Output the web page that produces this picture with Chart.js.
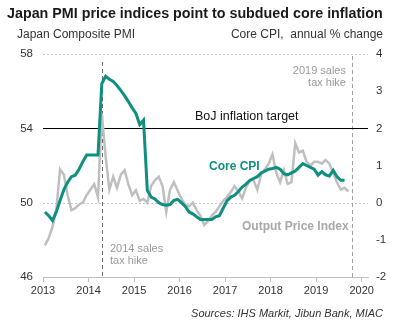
<!DOCTYPE html>
<html>
<head>
<meta charset="utf-8">
<script src="https://cdn.jsdelivr.net/npm/chart.js@4"></script>
<style>
    body { margin: 0; background: #fff; font-family: "Liberation Sans", Arial, sans-serif; }
    #wrap { position: relative; width: 394px; height: 323px; overflow: hidden; }
    #chart { position: absolute; left: 0; top: 0; }
    .txt { position: absolute; white-space: nowrap; }
    .title { left: 7px; top: 4px; font-size: 14.3px; font-weight: bold; color: #1a1a1a; line-height: 18px; }
    .axl { left: 17px; top: 26px; font-size: 12px; color: #333; line-height: 16px; }
    .axr { right: 11px; top: 26px; font-size: 12px; color: #333; line-height: 16px; }
    .src { right: 11px; top: 305px; font-size: 11px; font-style: italic; color: #333; line-height: 16px; }
    .boj { left: 195px; top: 108px; font-size: 12.5px; color: #111; line-height: 16px; }
    .cpi { left: 209px; top: 158px; font-size: 12px; font-weight: bold; color: #0f8f80; line-height: 16px; }
    .opi { left: 242px; top: 218px; font-size: 12px; font-weight: bold; color: #a8a8a8; line-height: 16px; }
    .hike19 { right: 48px; top: 64px; font-size: 11px; color: #9a9a9a; line-height: 12px; text-align: right; }
    .hike14 { left: 110px; top: 242px; font-size: 11px; color: #9a9a9a; line-height: 12px; }
</style>
</head>
<body>
<div id="wrap">
    <canvas id="chart" width="394" height="323"></canvas>
    <div class="txt title">Japan PMI price indices point to subdued core inflation</div>
    <div class="txt axl">Japan Composite PMI</div>
    <div class="txt axr">Core CPI,&nbsp; annual % change</div>
    <div class="txt boj">BoJ inflation target</div>
    <div class="txt cpi">Core CPI</div>
    <div class="txt opi">Output Price Index</div>
    <div class="txt hike19">2019 sales<br>tax hike</div>
    <div class="txt hike14">2014 sales<br>tax hike</div>
    <div class="txt src">Sources: IHS Markit, Jibun Bank, MIAC</div>
</div>
<script>
// monthly data, first value = Jan 2013
const startYear = 2013;

// PMI output price index (left axis), Jan 2013 - Sep 2019
const outputPrice = [
    47.7, 48.1, 48.7, 49.6, 51.8, 51.5, 50.4, 49.6, 49.7, 49.9, 50.0, 50.4,
    50.7, 51.0, 50.3, 54.8, 52.5, 50.7, 51.4, 50.8, 51.5, 51.75, 51.0, 50.4,
    50.66, 50.1, 50.2, 50.0, 50.9, 51.2, 51.4, 50.9, 49.5, 50.7, 51.1, 50.66,
    50.2, 49.9, 49.8, 50.0, 49.6, 49.3, 48.8, 49.0, 49.3, 49.5, 49.8, 50.1,
    50.3, 50.57, 50.9, 50.6, 50.23, 50.8, 51.2, 51.2, 50.7, 51.5, 51.8, 52.1,
    52.6, 51.6, 51.1, 51.75, 51.0, 51.1, 53.2, 52.7, 52.8, 52.2, 52.0, 52.2,
    52.2, 52.1, 52.3, 52.1, 51.6, 51.1, 50.7, 50.8, 50.6
];

// core CPI, annual % change (right axis), Jan 2013 - Aug 2019
const coreCpi = [
    -0.25, -0.35, -0.48, -0.25, 0.06, 0.35, 0.55, 0.7, 0.74, 0.9, 1.1, 1.28,
    1.28, 1.28, 1.28, 3.2, 3.4, 3.32, 3.26, 3.15, 3.02, 2.88, 2.72, 2.55,
    2.4, 2.1, 2.22, 0.33, 0.15, 0.1, 0.0, -0.05, -0.07, -0.05, 0.06, 0.09,
    0.0, -0.1, -0.25, -0.3, -0.38, -0.45, -0.45, -0.45, -0.45, -0.38, -0.35, -0.15,
    0.05, 0.15, 0.2, 0.3, 0.42, 0.5, 0.6, 0.65, 0.7, 0.8, 0.85, 0.9,
    0.92, 0.95, 0.9, 0.78, 0.75, 0.8, 0.85, 0.95, 1.05, 1.0, 0.95, 0.9,
    0.74, 0.83, 0.75, 0.72, 0.87, 0.7, 0.6, 0.6
];

const leftTicks = [46, 50, 54, 58];
const rightTicks = [-2, -1, 0, 1, 2, 3, 4];
const bojTarget = 2;
// sales tax hikes: Apr 2014 and Oct 2019 (mid-month)
const taxHikes = [2014 + 3.5 / 12, 2019 + 9.5 / 12];

const teal = '#0f8f80';
const grey = '#bfbfbf';

// plot each month at its mid-point
function toPoints(values) {
    return values.map((v, i) => ({ x: startYear + (i + 0.5) / 12, y: v }));
}

const refLines = {
    id: 'refLines',
    beforeDatasetsDraw(chart) {
        const { ctx, chartArea: area, scales } = chart;
        ctx.save();
        ctx.lineWidth = 1;
        // dotted grid at 58 and 50
        ctx.strokeStyle = '#c8c8c8';
        ctx.setLineDash([2, 2]);
        [58, 50].forEach(v => {
            const y = Math.round(scales.y.getPixelForValue(v)) + 0.5;
            ctx.beginPath();
            ctx.moveTo(area.left, y);
            ctx.lineTo(area.right, y);
            ctx.stroke();
        });
        // tax hike markers
        ctx.setLineDash([4, 3]);
        taxHikes.forEach((t, i) => {
            const x = Math.round(scales.x.getPixelForValue(t)) + 0.5;
            ctx.strokeStyle = i === 0 ? '#6a6a6a' : '#a0a0a0';
            ctx.beginPath();
            ctx.moveTo(x, area.top + (i === 0 ? 8 : 2));
            ctx.lineTo(x, area.bottom);
            ctx.stroke();
        });
        // BoJ target
        ctx.setLineDash([]);
        ctx.strokeStyle = '#000';
        const yb = Math.round(scales.y1.getPixelForValue(bojTarget)) + 0.5;
        ctx.beginPath();
        ctx.moveTo(area.left, yb);
        ctx.lineTo(area.right, yb);
        ctx.stroke();
        ctx.restore();
    }
};

Chart.defaults.font.family = '"Liberation Sans", Arial, sans-serif';
Chart.defaults.color = '#333';

new Chart(document.getElementById('chart'), {
    type: 'line',
    data: {
        datasets: [
            {
                label: 'Core CPI',
                data: toPoints(coreCpi),
                yAxisID: 'y1',
                borderColor: teal,
                borderWidth: 3,
                pointRadius: 0,
                tension: 0,
                order: 0
            },
            {
                label: 'Output Price Index',
                data: toPoints(outputPrice),
                yAxisID: 'y',
                borderColor: grey,
                borderWidth: 2.5,
                pointRadius: 0,
                tension: 0,
                order: 1
            }
        ]
    },
    options: {
        responsive: false,
        animation: false,
        layout: { padding: { top: 54, left: 0, right: 0, bottom: 0 } },
        plugins: { legend: { display: false }, tooltip: { enabled: false } },
        scales: {
            x: {
                type: 'linear',
                min: startYear,
                max: 2020.14,
                afterFit: s => { s.height = 46; },
                border: { display: true, color: '#bfbfbf', width: 1 },
                grid: { drawOnChartArea: false, drawTicks: true, tickLength: 5, color: '#bfbfbf' },
                ticks: {
                    stepSize: 1,
                    includeBounds: false,
                    padding: 2,
                    font: { size: 11 },
                    callback: v => String(v)
                }
            },
            y: {
                position: 'left',
                min: leftTicks[0],
                max: leftTicks[leftTicks.length - 1],
                afterFit: s => { s.width = 43; },
                afterBuildTicks: s => { s.ticks = leftTicks.map(v => ({ value: v })); },
                border: { display: false },
                grid: { display: false, drawTicks: false },
                ticks: { padding: 10, font: { size: 11.5 } }
            },
            y1: {
                position: 'right',
                min: rightTicks[0],
                max: rightTicks[rightTicks.length - 1],
                afterFit: s => { s.width = 26; },
                afterBuildTicks: s => { s.ticks = rightTicks.map(v => ({ value: v })); },
                border: { display: false },
                grid: { display: false, drawTicks: false },
                ticks: { padding: 8, font: { size: 11.5 } }
            }
        }
    },
    plugins: [refLines]
});
</script>
</body>
</html>
